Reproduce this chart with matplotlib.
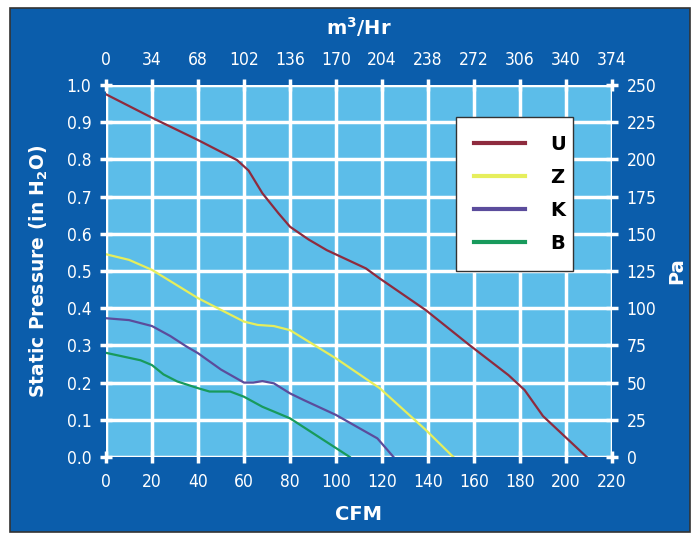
import matplotlib
matplotlib.use("Agg")
import matplotlib.pyplot as plt
from matplotlib.patches import Rectangle
from matplotlib import font_manager
import numpy as np

# ---- data ----
u_cfm = [0, 20, 40, 57, 62, 68, 75, 80, 88, 96, 113, 119, 139, 158, 175, 182, 190, 209]
u_in  = [0.975, 0.912, 0.852, 0.798, 0.77, 0.709, 0.655, 0.619, 0.585, 0.556, 0.507, 0.48, 0.395, 0.301, 0.22, 0.18, 0.11, 0.0]
z_cfm = [0, 10, 20, 40, 60, 66, 73, 80, 100, 119, 139, 151]
z_in  = [0.545, 0.53, 0.503, 0.427, 0.364, 0.355, 0.352, 0.341, 0.265, 0.185, 0.073, 0.0]
k_cfm = [0, 10, 20, 28, 35, 40, 50, 60, 64, 68, 73, 80, 86, 100, 118, 125]
k_in  = [0.373, 0.368, 0.352, 0.325, 0.297, 0.279, 0.235, 0.2, 0.2, 0.204, 0.198, 0.171, 0.153, 0.113, 0.05, 0.0]
b_cfm = [0, 15, 20, 25, 31, 40, 45, 54, 60, 68, 80, 94.5, 106]
b_in  = [0.28, 0.26, 0.247, 0.222, 0.203, 0.185, 0.176, 0.176, 0.162, 0.135, 0.104, 0.046, 0.0]

series = [("U", u_cfm, u_in, "#8e2b3e"),
          ("Z", z_cfm, z_in, "#e6ee5c"),
          ("K", k_cfm, k_in, "#5b4c9c"),
          ("B", b_cfm, b_in, "#189a5c")]

cfm_ticks = list(range(0, 221, 20))
m3_ticks = list(range(0, 375, 34))
in_ticks = [round(0.1 * i, 1) for i in range(11)]
pa_ticks = list(range(0, 251, 25))

PANEL = "#0b5dab"
PLOT_BG = "#5cbde9"

names = {f.name for f in font_manager.fontManager.ttflist}
if "Liberation Sans Narrow" in names:
    tick_font = dict(family=["Liberation Sans Narrow", "DejaVu Sans"], size=13)
elif any(f.name == "DejaVu Sans" and "ondensed" in str(f.fname) for f in font_manager.fontManager.ttflist):
    tick_font = dict(family=["DejaVu Sans"], stretch="condensed", size=12.5)
else:
    tick_font = dict(family=["Roboto", "DejaVu Sans"], stretch="condensed", size=12.5)

fig = plt.figure(figsize=(6.92, 5.35), dpi=100)
fig.patch.set_facecolor("white")
panel = Rectangle((10/692, 1-532/535), 680/692, 524/535, transform=fig.transFigure,
                  facecolor=PANEL, edgecolor="#333333", linewidth=1.2, zorder=-10)
fig.patches.append(panel)

ax = fig.add_axes([106/692, 1-457/535, 506/692, 372/535])
ax.set_facecolor(PLOT_BG)
for name, x, y, c in series:
    ax.plot(x, y, color=c, lw=1.6, label=name, zorder=3)

ax.set_xlim(0, 220)
ax.set_ylim(0, 1.0)
ax.set_xticks(cfm_ticks)
ax.set_yticks(in_ticks)
ax.set_yticklabels([f"{v:.1f}" for v in in_ticks])
ax.grid(True, color="white", lw=2.5, zorder=1)
ax.set_axisbelow(True)
for s in ax.spines.values():
    s.set_visible(False)

def style_ticks(a, labels, axis="both", pad=3):
    a.tick_params(axis=axis, colors="white", direction="inout", length=9, width=2.5, pad=pad)
    for lab in labels:
        lab.set_family(tick_font["family"])
        lab.set_size(tick_font["size"])
        if "stretch" in tick_font:
            lab.set_stretch(tick_font["stretch"])

style_ticks(ax, ax.get_xticklabels(), axis="x", pad=7)
style_ticks(ax, ax.get_yticklabels(), axis="y", pad=6)

ax.set_xlabel("CFM", color="white", fontsize=14, fontweight="bold", labelpad=10)
ax.set_ylabel("Static Pressure (in H$_\\mathbf{2}$O)", color="white", fontsize=13.5,
              fontweight="bold", labelpad=12)

axt = ax.twiny()
axt.set_xlim(0, 374)
axt.set_xticks(m3_ticks)
for s in axt.spines.values():
    s.set_visible(False)
style_ticks(axt, axt.get_xticklabels(), axis="x", pad=7)
axt.set_xlabel("m$^\\mathbf{3}$/Hr", color="white", fontsize=14, fontweight="bold", labelpad=12)

axr = ax.twinx()
axr.set_ylim(0, 250)
axr.set_yticks(pa_ticks)
for s in axr.spines.values():
    s.set_visible(False)
style_ticks(axr, axr.get_yticklabels(), axis="y", pad=6)
axr.set_ylabel("Pa", color="white", fontsize=14, fontweight="bold", labelpad=8)

leg = axr.legend(*ax.get_legend_handles_labels(), loc="center",
                 bbox_to_anchor=(350/506, 1-(265-85)/372, 117/506, 142/372),
                 bbox_transform=ax.transAxes,
                 mode="expand", frameon=True, fancybox=False, framealpha=1.0,
                 handlelength=2.6, handletextpad=1.3, labelspacing=0.72, borderpad=0.95,
                 borderaxespad=0.0,
                 prop={"size": 14, "weight": "bold"})
leg.get_frame().set_facecolor("white")
leg.get_frame().set_edgecolor("#333333")
leg.get_frame().set_linewidth(1.0)
for line in leg.get_lines():
    line.set_linewidth(3)
leg.set_zorder(5)

fig.savefig("out.png", dpi=100, facecolor=fig.get_facecolor())
